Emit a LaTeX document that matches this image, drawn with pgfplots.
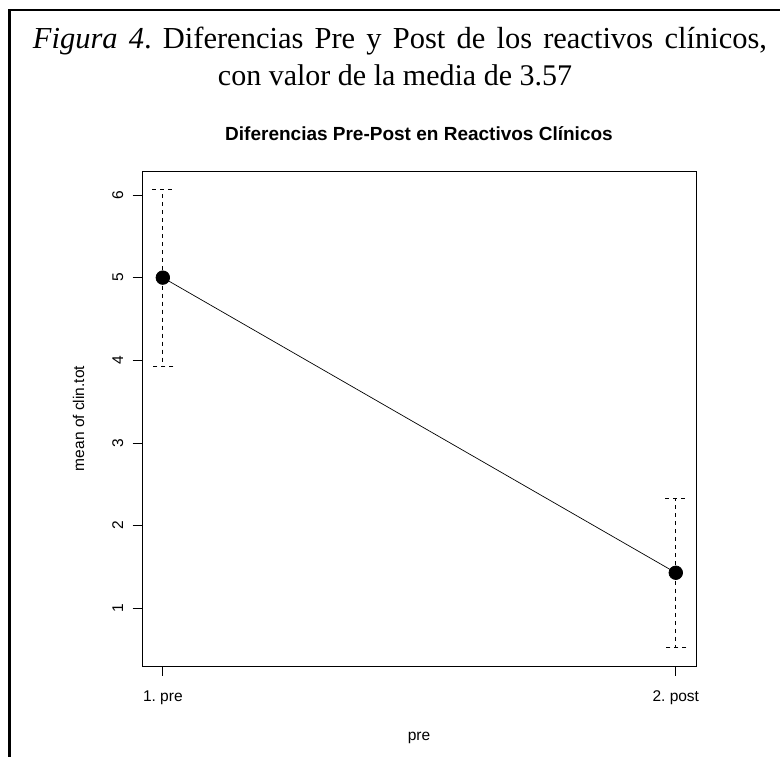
\documentclass[border=0pt]{standalone}
\usepackage{fontspec}
\setmainfont{Liberation Serif}
\newfontfamily\arial{Liberation Sans}
\usepackage{pgfplots}
\pgfplotsset{compat=1.18}
\frenchspacing
\begin{document}
\begin{tikzpicture}[x=1bp,y=1bp]
\useasboundingbox (0,0) rectangle (780,757);
\draw[line width=2.2bp] (9.5,0) -- (9.5,747) -- (780,747);
\node[font=\fontsize{30.5bp}{36bp}\selectfont, anchor=base, inner sep=0pt] at (400,708.7) {\hbox to 734bp{\textit{Figura 4}.\ Diferencias Pre y Post de los reactivos clínicos,}};
\node[font=\fontsize{30bp}{36bp}\selectfont, anchor=base] at (395,671) {con valor de la media de 3.57};
\node[font=\arial\bfseries\fontsize{19bp}{22bp}\selectfont, anchor=base] at (419,616.3) {Diferencias Pre-Post en Reactivos Clínicos};
\node[font=\arial\fontsize{15.5bp}{18bp}\selectfont, anchor=base] at (419,16.3) {pre};
\node[font=\arial\fontsize{15.5bp}{18bp}\selectfont, anchor=base, rotate=90] at (84,338.5) {mean of clin.tot};
\begin{axis}[
  at={(142.3bp,91bp)}, anchor=south west,
  scale only axis, width=554bp, height=495bp,
  xmin=0.96, xmax=2.04, ymin=0.302, ymax=6.29,
  xtick={1,2}, xticklabels={1. pre, 2. post},
  ytick={1,2,3,4,5,6}, yticklabels={1,2,3,4,5,6},
  xtick pos=lower, ytick pos=left,
  tick align=outside, major tick length=9.6bp,
  tick style={black, line width=0.8bp},
  axis line style={line width=0.8bp},
  tick label style={font=\arial\fontsize{15.5bp}{18bp}\selectfont},
  yticklabel style={rotate=90, anchor=south, yshift=6bp},
  xticklabel style={yshift=-12bp},
  clip=false,
]
\addplot[black, line width=0.7bp, mark=*, mark size=6.8bp,
  mark options={solid, fill=black},
  error bars/.cd, y dir=both, y explicit,
  error bar style={line width=0.7bp, dash pattern=on 4bp off 4bp},
  error mark options={rotate=90, mark size=10.5bp, line width=0.7bp, dash pattern=on 4bp off 4bp}]
  table[x=x, y=y, y error=e] {
x y e
1 5.0 1.068
2 1.43 0.906
};
\end{axis}
\end{tikzpicture}
\end{document}
